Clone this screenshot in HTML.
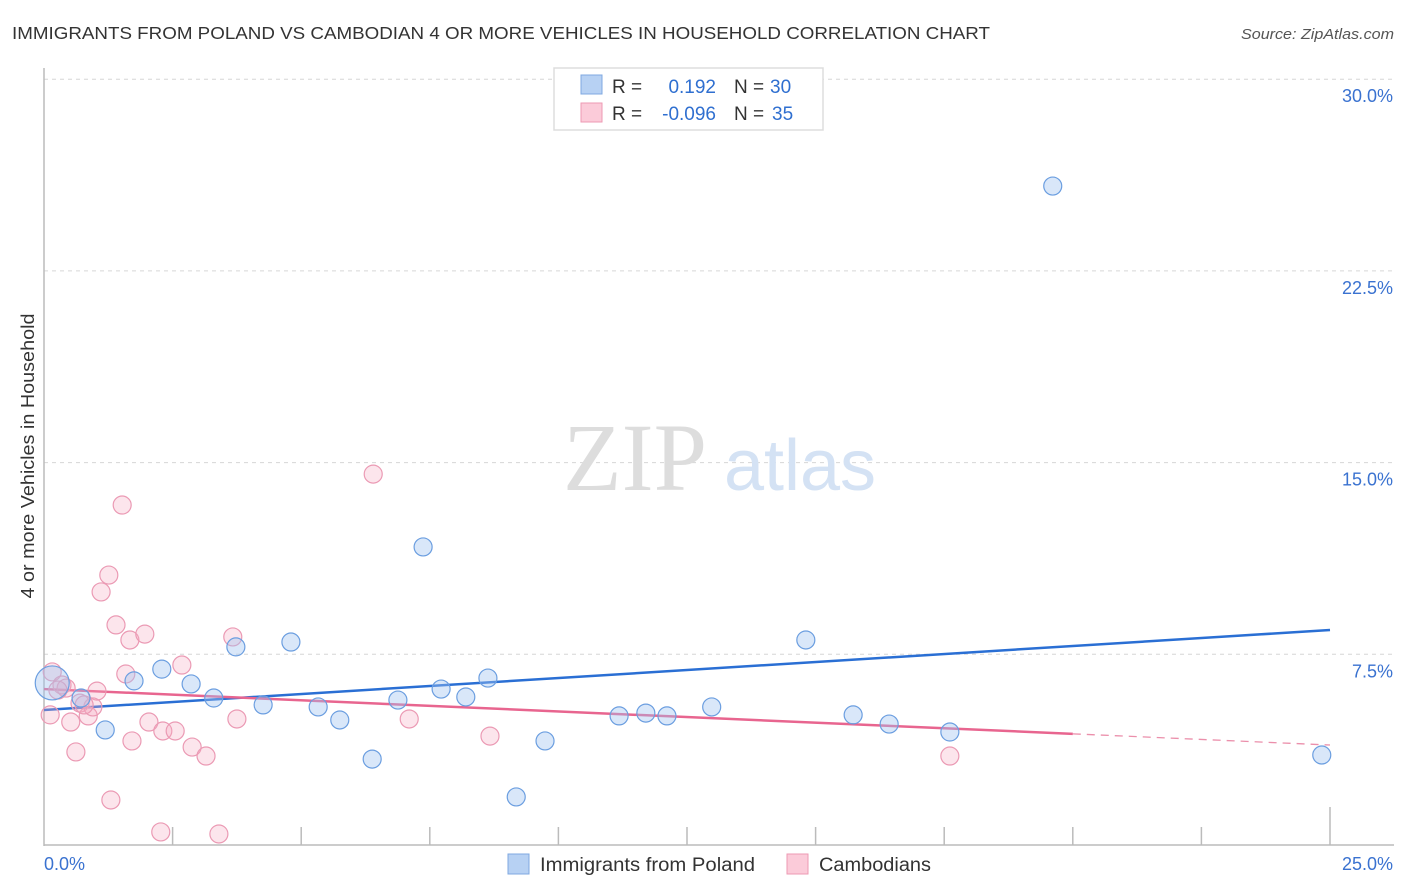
<!DOCTYPE html>
<html><head><meta charset="utf-8">
<style>
body{margin:0;background:#fff;font-family:"Liberation Sans",sans-serif;}
svg{display:block}
</style></head>
<body>
<svg width="1406" height="892" viewBox="0 0 1406 892" xmlns="http://www.w3.org/2000/svg">
<text x="12" y="39" font-size="17.5" fill="#333" textLength="978" lengthAdjust="spacingAndGlyphs">IMMIGRANTS FROM POLAND VS CAMBODIAN 4 OR MORE VEHICLES IN HOUSEHOLD CORRELATION CHART</text>
<text x="1241" y="39" font-size="15" fill="#555" font-style="italic" textLength="153" lengthAdjust="spacingAndGlyphs">Source: ZipAtlas.com</text>
<g id="grid"></g>
<g>
<text x="635" y="490" font-size="96" fill="#ddd" font-family="Liberation Serif,serif" text-anchor="middle">ZIP</text>
<text x="800" y="490" font-size="72" fill="#d4e2f4" text-anchor="middle">atlas</text>
</g>
<g id="axes"></g>
<g id="lines"></g>
<g id="pts"></g>
<text transform="translate(34,456) rotate(-90)" font-size="18" fill="#333" text-anchor="middle" textLength="285" lengthAdjust="spacingAndGlyphs">4 or more Vehicles in Household</text>
<g>
<rect x="554" y="68" width="269" height="62" fill="#fff" stroke="#ddd" stroke-width="1.5"/>
<rect x="581" y="75" width="21" height="19" fill="#b7d1f3" stroke="#7fa8e0"/>
<rect x="581" y="103" width="21" height="19" fill="#fbcbd9" stroke="#ee9ab3"/>
<text x="612" y="93" font-size="19" fill="#333">R =</text>
<text x="716" y="93" font-size="19" fill="#2f6fd0" text-anchor="end">0.192</text>
<text x="734" y="93" font-size="19" fill="#333">N =</text>
<text x="770" y="93" font-size="19" fill="#2f6fd0">30</text>
<text x="612" y="120" font-size="19" fill="#333">R =</text>
<text x="716" y="120" font-size="19" fill="#2f6fd0" text-anchor="end">-0.096</text>
<text x="734" y="120" font-size="19" fill="#333">N =</text>
<text x="772" y="120" font-size="19" fill="#2f6fd0">35</text>
</g>
<g>
<rect x="508" y="854" width="21" height="20" fill="#b7d1f3" stroke="#7fa8e0"/>
<text x="540" y="871" font-size="19" fill="#333" textLength="215" lengthAdjust="spacingAndGlyphs">Immigrants from Poland</text>
<rect x="787" y="854" width="21" height="20" fill="#fbcbd9" stroke="#ee9ab3"/>
<text x="819" y="871" font-size="19" fill="#333" textLength="112" lengthAdjust="spacingAndGlyphs">Cambodians</text>
</g>
<script>
const yTicks=[7.5,15,22.5,30];
const yTickLabels=["7.5%","15.0%","22.5%","30.0%"];
const xTickLabels=["0.0%","25.0%"];
const polandX=[0.16,0.72,1.19,1.75,2.29,2.86,3.30,3.73,4.26,4.80,5.33,5.75,6.38,6.88,7.37,7.72,8.20,8.63,9.18,9.74,11.18,11.70,12.11,12.98,14.81,15.73,16.43,17.61,19.61,24.84];
const polandY=[6.38,5.79,4.54,6.46,6.92,6.34,5.79,7.79,5.52,7.98,5.44,4.93,3.40,5.71,11.70,6.14,5.83,6.57,1.92,4.11,5.09,5.20,5.09,5.44,8.06,5.13,4.77,4.46,25.82,3.56];
const cambX=[1.52,1.26,1.11,1.40,1.67,1.96,1.59,2.68,3.67,1.03,0.16,0.35,0.70,0.86,0.95,0.12,0.52,0.62,1.71,2.04,2.31,2.55,2.88,3.15,3.75,1.30,2.27,3.40,6.40,7.10,8.67,17.61,0.43,0.27,0.78];
const cambY=[13.34,10.60,9.94,8.65,8.06,8.29,6.73,7.08,8.18,6.06,6.81,6.30,5.59,5.09,5.44,5.13,4.85,3.68,4.11,4.85,4.50,4.50,3.87,3.52,4.97,1.80,0.55,0.47,14.55,4.97,4.30,3.52,6.18,6.10,5.52];
const polandTrend=[5.32,8.45];
const cambTrend=[6.14,3.95];
const cambSolidEnd=20;

const NS="http://www.w3.org/2000/svg";
const X=v=>44+v*51.44, Y=v=>846-v*25.56;
function mk(tag,attrs,parent){const e=document.createElementNS(NS,tag);for(const k in attrs)e.setAttribute(k,attrs[k]);parent.appendChild(e);return e;}
const grid=document.getElementById('grid'),axes=document.getElementById('axes'),lines=document.getElementById('lines'),pts=document.getElementById('pts');
yTicks.forEach((t,i)=>{
 const l=mk('line',{x1:44,x2:1394,y1:Y(t),y2:Y(t),stroke:'#d6d6d6','stroke-dasharray':'4 4'},grid);
 
 
 const tx=mk('text',{x:1393,y:Y(t)+23,'font-size':18,fill:'#3a72d0','text-anchor':'end'},axes);
 tx.textContent=yTickLabels[i];
 
 
});
mk('line',{x1:44,x2:44,y1:68,y2:846,stroke:'#bbb','stroke-width':1.5},axes);
mk('line',{x1:44,x2:1394,y1:845,y2:845,stroke:'#bbb','stroke-width':1.5},axes);
for(let i=1;i<=10;i++){
 const v=i*2.5;
 const t=mk('line',{x1:X(v),x2:X(v),y1:i==10?807:827,y2:845,stroke:'#bbb','stroke-width':1.5},axes);
 
 
}
const xl0=mk('text',{x:44,y:870,'font-size':18,fill:'#3a72d0'},axes);xl0.textContent=xTickLabels[0];


const xl1=mk('text',{x:1393,y:870,'font-size':18,fill:'#3a72d0','text-anchor':'end'},axes);xl1.textContent=xTickLabels[1];



cambX.forEach((x,i)=>{
 const c=mk('circle',{cx:X(x),cy:Y(cambY[i]),r:9,fill:'rgba(246,168,192,0.3)',stroke:'#eb9ab4','stroke-width':1.2},pts);
 
 
});
polandX.forEach((x,i)=>{
 const c=mk('circle',{cx:X(x),cy:Y(polandY[i]),r:i==0?17:9,fill:'rgba(160,195,240,0.4)',stroke:'#6b9ee0','stroke-width':1.2},pts);
 
 
});
const pl=mk('line',{x1:X(0),y1:Y(polandTrend[0]),x2:X(25),y2:Y(polandTrend[1]),stroke:'#2a6fd4','stroke-width':2.5},lines);


const cy=v=>cambTrend[0]+(cambTrend[1]-cambTrend[0])*v/25;
const cl=mk('line',{x1:X(0),y1:Y(cambTrend[0]),x2:X(cambSolidEnd),y2:Y(cy(cambSolidEnd)),stroke:'#e8658f','stroke-width':2.5},lines);


const cd=mk('line',{x1:X(cambSolidEnd),y1:Y(cy(cambSolidEnd)),x2:X(25),y2:Y(cambTrend[1]),stroke:'#eb8fab','stroke-width':1.3,'stroke-dasharray':'8 6'},lines);


</script>
</svg>
</body></html>
